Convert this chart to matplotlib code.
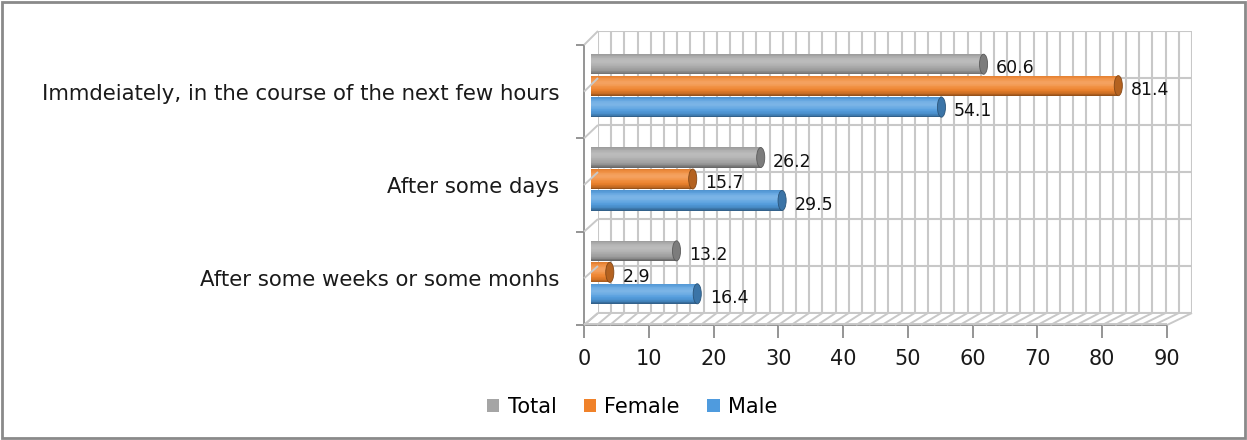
import numpy as np
import matplotlib
matplotlib.use("Agg")
import matplotlib.pyplot as plt
from matplotlib.patches import Ellipse, Rectangle
from matplotlib.lines import Line2D
from matplotlib.colors import to_rgb
import matplotlib.transforms as mtransforms

# ---- data ----
categories = ["After some weeks or some monhs",
              "After some days",
              "Immdeiately, in the course of the next few hours"]
series_names = ["Total", "Female", "Male"]
total = [13.2, 26.2, 60.6]
female = [2.9, 15.7, 81.4]
male = [16.4, 29.5, 54.1]
x_ticks = [0, 10, 20, 30, 40, 50, 60, 70, 80, 90]

colors = {"Total": "#A5A5A5", "Female": "#F0822A", "Male": "#4F9BDE"}
values = {"Total": total, "Female": female, "Male": male}

W, H = 1247, 440
fig = plt.figure(figsize=(W / 100, H / 100), dpi=100)
fig.patch.set_facecolor("white")

FONT = "DejaVu Sans"


def fx(px):
    return px / W


def fy(py):
    return 1 - py / H


# plot box geometry (front plane and back wall), in pixels
F_L, F_R, F_T, F_B = 584, 1167, 45, 325
B_L, B_R, B_T, B_B = 598, 1192, 31, 313
grid_col = "#C8C8C8"
axis_col = "#8C8C8C"

# back wall
wall = fig.add_axes([fx(B_L), fy(B_B), fx(B_R - B_L), (B_B - B_T) / H])
wall.set_xlim(0, 90)
wall.set_ylim(0, 3)
for v in np.arange(0, 91, 2):
    wall.axvline(v, color=grid_col, lw=1.5, zorder=1)
for v in np.arange(0, 3.01, 0.5):
    wall.axhline(v, color=grid_col, lw=1.5, zorder=1)
wall.set_xticks([])
wall.set_yticks([])
for s in wall.spines.values():
    s.set_visible(False)


def fline(x0, y0, x1, y1, color=grid_col, lw=1.4, z=2):
    fig.add_artist(Line2D([fx(x0), fx(x1)], [fy(y0), fy(y1)], color=color,
                          lw=lw, zorder=z, solid_capstyle="butt"))


# floor grid and edges
for v in np.arange(0, 91, 2):
    xf = F_L + (F_R - F_L) * v / 90
    xb = B_L + (B_R - B_L) * v / 90
    fline(xf, F_B, xb, B_B)
fline(F_L, F_B - 1, F_R, F_B - 1)
fline(B_L, B_B, B_R, B_B)
# side wall grid
for k in range(7):
    yf = F_T + (F_B - F_T) * k / 6
    yb = B_T + (B_B - B_T) * k / 6
    fline(F_L, yf, B_L, yb)

# front axes (bars, ticks, labels)
ax = fig.add_axes([fx(F_L), fy(F_B), fx(F_R - F_L), (F_B - F_T) / H])
ax.set_xlim(0, 90)
ax.set_ylim(0, 3)
ax.patch.set_alpha(0)
for s in ["top", "right"]:
    ax.spines[s].set_visible(False)
for s in ["left", "bottom"]:
    ax.spines[s].set_color(axis_col)
    ax.spines[s].set_linewidth(1.3)
ax.set_xticks(x_ticks)
ax.set_xticklabels([str(t) for t in x_ticks], fontsize=15,
                   fontfamily=FONT, color="#1a1a1a")
ax.tick_params(axis="x", length=9, width=1.3, color=axis_col, pad=8)
ax.set_yticks([0, 1, 2, 3])
ax.set_yticklabels([])
ax.tick_params(axis="y", length=6, width=1.3, color=axis_col)
ax.set_yticks([0.5, 1.5, 2.5], minor=True)
ax.set_yticklabels(categories, minor=True, fontsize=15.3,
                   fontfamily=FONT, color="#1a1a1a")
ax.tick_params(axis="y", which="minor", length=0, pad=18)

# bars sit at mid depth: shift them towards the back wall
shift = mtransforms.ScaledTranslation(7 / 100, 6 / 100, fig.dpi_scale_trans)
tr = ax.transData + shift

offsets = {"Total": 0.23, "Female": 0.0, "Male": -0.23}
bar_h = 0.215
n_slices = 28
cap_w = 1.25  # ellipse width in data units


def shade(base, t):
    # cylinder lighting profile over the bar height (t=0 top, 1 bottom)
    r = np.array(to_rgb(base))
    light = np.exp(-((t - 0.35) / 0.25) ** 2) * 0.25
    dark = (abs(t - 0.4) / 0.6) ** 4 * 0.42
    c = r + (1 - r) * light
    c = c * (1 - dark)
    return np.clip(c, 0, 1)


for name in series_names:
    base = colors[name]
    for i, v in enumerate(values[name]):
        yc = i + 0.5 + offsets[name]
        top = yc + bar_h / 2
        edges = np.linspace(top, top - bar_h, n_slices + 1)
        for k in range(n_slices):
            t = (k + 0.5) / n_slices
            ax.barh((edges[k] + edges[k + 1]) / 2, v, height=bar_h / n_slices,
                    left=0, color=shade(base, t), linewidth=0,
                    transform=tr, zorder=3, clip_on=False)
        # end cap
        capc = np.array(to_rgb(base)) * 0.75
        ax.add_patch(Ellipse((v, yc), cap_w, bar_h, facecolor=capc,
                             edgecolor=np.array(to_rgb(base)) * 0.55, lw=0.6,
                             transform=tr, zorder=4, clip_on=False))
        # value label
        ax.annotate(f"{v:.1f}", xy=(v, yc), xytext=(9, -3),
                    textcoords="offset points", xycoords=tr,
                    ha="left", va="center", fontsize=12.5,
                    fontfamily=FONT, color="#111111", zorder=5)

# legend
handles = [Rectangle((0, 0), 1, 1, facecolor=colors[n], edgecolor="none")
           for n in series_names]
fig.legend(handles, series_names, loc="center", ncol=3,
           bbox_to_anchor=(fx(632), fy(407)), frameon=False,
           prop={"family": FONT, "size": 15},
           handlelength=0.6, handleheight=0.6, handletextpad=0.4,
           columnspacing=1.3)

# outer chart border
fig.add_artist(Rectangle((fx(1.5), fy(H - 2)), fx(W - 4), (H - 4) / H,
                         fill=False, edgecolor="#8A8A8A", lw=2,
                         transform=fig.transFigure))

fig.savefig("out.png", dpi=100)
